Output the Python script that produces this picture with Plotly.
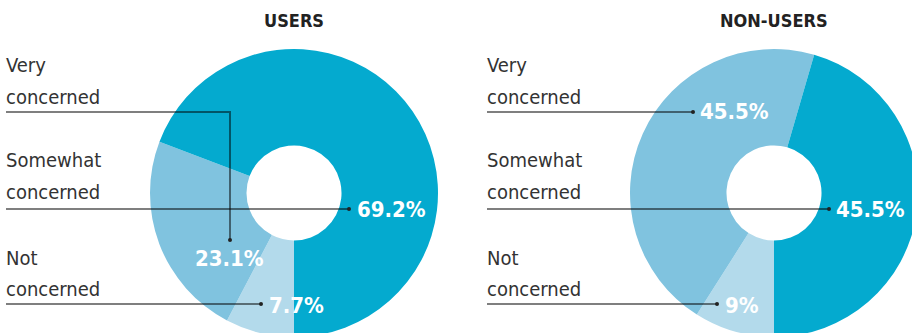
import plotly.graph_objects as go

# ---- data ----
groups = ["USERS", "NON-USERS"]
categories = ["Not concerned", "Very concerned", "Somewhat concerned"]
users_values = [7.7, 23.1, 69.2]
non_users_values = [9, 45.5, 45.5]
users_labels = ["7.7%", "23.1%", "69.2%"]
non_users_labels = ["9%", "45.5%", "45.5%"]
colors = ["#B3DAEB", "#80C3DF", "#04AACF"]
left_labels = [["Very", "concerned"], ["Somewhat", "concerned"], ["Not", "concerned"]]

W, H = 930, 345
def px(x):
    return x / W
def py(y):
    return 1 - y / H

LABEL_FONT = "DejaVu Sans Condensed, Liberation Sans Narrow, Roboto, sans-serif"
TEXT_COLOR = "#333333"
LINE_COLOR = "rgba(0,0,0,0.5)"

fig = go.Figure()

centers = [(294, 193), (774, 193)]
R = 144
for (cx, cy), vals, name in zip(centers, [users_values, non_users_values], groups):
    fig.add_trace(go.Pie(
        values=vals, labels=categories, name=name,
        marker=dict(colors=colors, line=dict(width=0)),
        hole=0.33, sort=False, direction="clockwise", rotation=180,
        textinfo="none", hoverinfo="label+value", showlegend=False,
        domain=dict(x=[px(cx - R), px(cx + R)], y=[py(cy + R), py(cy - R)]),
    ))

shapes = []
annotations = []

# titles
for (cx, cy), name in zip(centers, groups):
    annotations.append(dict(x=px(cx), y=py(20), xref="paper", yref="paper", text=f"<b>{name}</b>",
                            showarrow=False, xanchor="center", yanchor="middle",
                            font=dict(family=LABEL_FONT, size=18, color="#222222")))

# left category labels
label_lines_y = [(65, 97), (160, 192), (258, 289)]
for lx in (4, 485):
    for lines, ys in zip(left_labels, label_lines_y):
        for t, yy in zip(lines, ys):
            annotations.append(dict(x=px(lx), y=py(yy), xref="paper", yref="paper", text=t,
                                    showarrow=False, xanchor="left", yanchor="middle",
                                    font=dict(family=LABEL_FONT, size=20, color=TEXT_COLOR)))

# leader lines + value labels (category order: Not, Very, Somewhat)
leaders = {
    "USERS": [
        ([(6, 304), (261, 304)], (261, 304), (267, 305), "left"),
        ([(6, 112), (230, 112), (230, 240)], (230, 240), (229, 258), "center"),
        ([(6, 209), (349, 209)], (349, 209), (355, 209), "left"),
    ],
    "NON-USERS": [
        ([(487, 304), (717, 304)], (717, 304), (723, 305), "left"),
        ([(487, 112), (693, 112)], (693, 112), (698, 112), "left"),
        ([(487, 209), (829, 209)], (829, 209), (834, 209), "left"),
    ],
}
for name, labels in zip(groups, [users_labels, non_users_labels]):
    for (pts, dot, tpos, anchor), lab in zip(leaders[name], labels):
        path = "M " + " L ".join(f"{px(x)},{py(y)}" for x, y in pts)
        shapes.append(dict(type="path", xref="paper", yref="paper", path=path,
                           line=dict(color=LINE_COLOR, width=2)))
        dx, dy = dot
        shapes.append(dict(type="circle", xref="paper", yref="paper",
                           x0=px(dx - 2), x1=px(dx + 2), y0=py(dy + 2), y1=py(dy - 2),
                           fillcolor="#222222", line=dict(width=0)))
        annotations.append(dict(x=px(tpos[0]), y=py(tpos[1]), xref="paper", yref="paper",
                                text=f"<b>{lab}</b>", showarrow=False, xanchor=anchor, yanchor="middle",
                                font=dict(family=LABEL_FONT, size=22, color="white")))

fig.update_layout(
    width=W, height=H, margin=dict(l=0, r=0, t=0, b=0),
    paper_bgcolor="white", plot_bgcolor="white",
    shapes=shapes, annotations=annotations,
)

fig.write_html("out.html", post_script=(
    "document.documentElement.style.overflow='hidden';"
    "document.body.style.overflow='hidden';document.body.style.margin='0';"
))
